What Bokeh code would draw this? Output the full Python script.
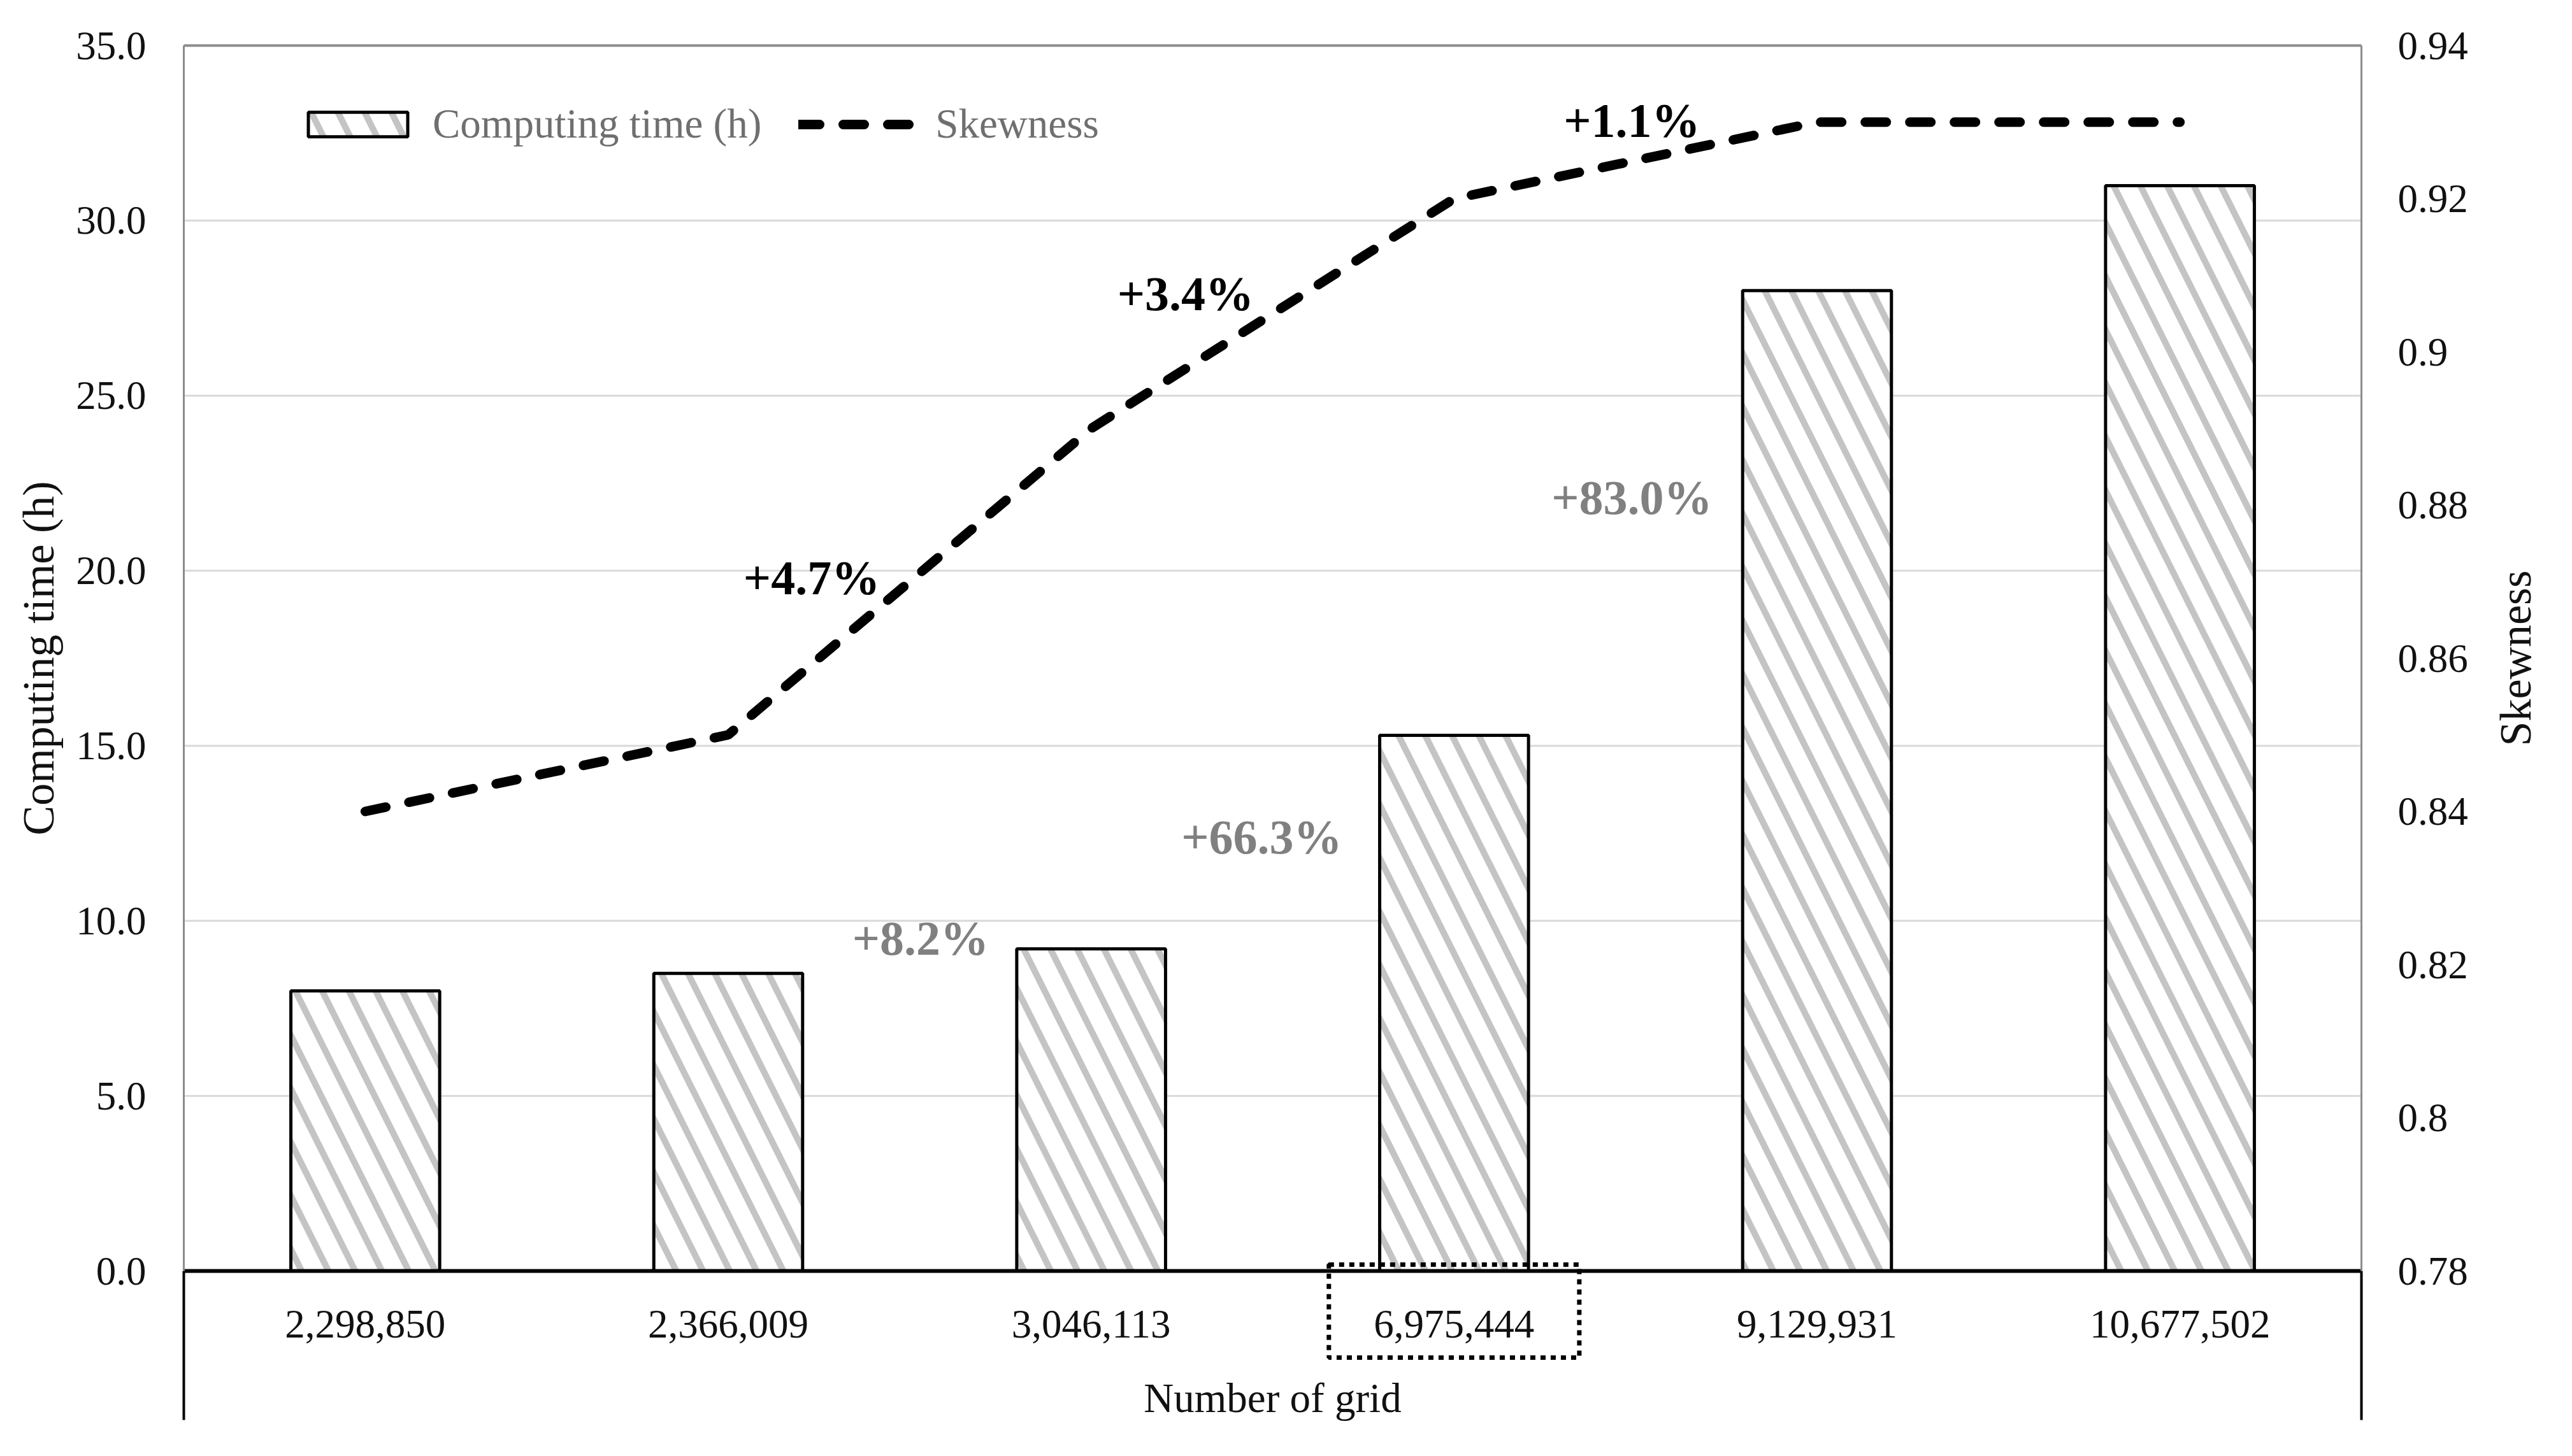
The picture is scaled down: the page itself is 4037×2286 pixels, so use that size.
from math import pi
from bokeh.plotting import figure
from bokeh.models import (Range1d, LinearAxis, FixedTicker, NumeralTickFormatter,
                          CustomJSTickFormatter, Label, Legend, LegendItem,
                          ColumnDataSource)
from bokeh.core.properties import value
from bokeh.embed import file_html
from bokeh.resources import INLINE

# ---------------- data ----------------
grid_counts = ["2,298,850", "2,366,009", "3,046,113", "6,975,444", "9,129,931", "10,677,502"]
computing_time_h = [8.0, 8.5, 9.2, 15.3, 28.0, 31.0]
skewness = [0.84, 0.85, 0.89, 0.92, 0.93, 0.93]
time_change_labels = ["+8.2%", "+66.3%", "+83.0%"]
skew_change_labels = ["+4.7%", "+3.4%", "+1.1%"]
left_ticks = [0, 5, 10, 15, 20, 25, 30, 35]
right_ticks = [0.78, 0.80, 0.82, 0.84, 0.86, 0.88, 0.90, 0.92, 0.94]
highlight_grid = "6,975,444"

n = len(grid_counts)
idx = list(range(n))

# ---------------- layout (canvas px) ----------------
W, H = 4021, 2270
PL, PR, PT, ZERO, PB = 288, 3706, 71, 1995, 2229   # plot area edges, zero line, table bottom
cat_px = (PR - PL) / n
x_lo = -0.5 - PL / cat_px
x_hi = n - 0.5 + (W - PR) / cat_px
ppu = (ZERO - PT) / (left_ticks[-1] - left_ticks[0])
y_lo = -(H - ZERO) / ppu
y_hi = left_ticks[-1] + PT / ppu
table_bottom = -(PB - ZERO) / ppu
k = (right_ticks[-1] - right_ticks[0]) / (ZERO - PT)
skew_lo = right_ticks[0] - (H - ZERO) * k
skew_hi = right_ticks[-1] + PT * k

# annotation anchors (x in category units, y in axis units)
time_lab_x = [1.53, 2.47, 3.49]
time_lab_y = [9.5, 12.4, 22.1]
skew_lab_x = [1.23, 2.26, 3.49]
skew_lab_y = [0.8705, 0.9076, 0.9302]

FONT = "Liberation Serif"
GRAY_SPINE = "#8c8c8c"
TXT = "#111111"

p = figure(width=W, height=H,
           x_range=Range1d(x_lo, x_hi), y_range=Range1d(y_lo, y_hi),
           output_backend="svg", toolbar_location=None,
           min_border_left=0, min_border_right=0,
           min_border_top=0, min_border_bottom=0)
p.outline_line_color = None
p.background_fill_color = "white"
p.border_fill_color = "white"
p.extra_y_ranges = {"skew": Range1d(skew_lo, skew_hi)}
p.grid.visible = False

# horizontal gridlines over the plot area
p.segment(x0=[-0.5] * (len(left_ticks) - 2), x1=[n - 0.5] * (len(left_ticks) - 2),
          y0=left_ticks[1:-1], y1=left_ticks[1:-1],
          line_color="#d9d9d9", line_width=3)

# top border of plot area
p.segment(x0=[-0.5], x1=[n - 0.5], y0=[left_ticks[-1]], y1=[left_ticks[-1]],
          line_color=GRAY_SPINE, line_width=4)

# lower outline of the category table
p.segment(x0=[-0.5, n - 0.5], x1=[-0.5, n - 0.5],
          y0=[0, 0], y1=[table_bottom, table_bottom],
          line_color="black", line_width=4)

# left axis
ya = p.yaxis[0]
ya.fixed_location = -0.5
ya.ticker = FixedTicker(ticks=left_ticks)
ya.formatter = NumeralTickFormatter(format="0.0")
ya.bounds = (left_ticks[0], left_ticks[-1])
ya.axis_line_color = GRAY_SPINE
ya.axis_line_width = 3
ya.major_tick_line_color = None
ya.minor_tick_line_color = None
ya.major_tick_out = 0
ya.major_tick_in = 0
ya.major_label_standoff = 59
ya.major_label_text_font = FONT
ya.major_label_text_font_size = "63px"
ya.major_label_text_color = TXT

# right axis
ra = LinearAxis(y_range_name="skew", fixed_location=n - 0.5,
                ticker=FixedTicker(ticks=right_ticks),
                formatter=CustomJSTickFormatter(code="return String(parseFloat(tick.toFixed(2)));"))
ra.bounds = (right_ticks[0], right_ticks[-1])
ra.axis_line_color = GRAY_SPINE
ra.axis_line_width = 3
ra.major_tick_line_color = None
ra.minor_tick_line_color = None
ra.major_tick_out = 0
ra.major_tick_in = 0
ra.major_label_standoff = 57
ra.major_label_text_font = FONT
ra.major_label_text_font_size = "63px"
ra.major_label_text_color = TXT
p.add_layout(ra, "right")

# bottom category axis at zero
xa = p.xaxis[0]
xa.fixed_location = 0
xa.bounds = (-0.5, n - 0.5)
xa.ticker = FixedTicker(ticks=idx)
xa.formatter = CustomJSTickFormatter(args=dict(labels=grid_counts),
                                     code="return labels[Math.round(tick)];")
xa.axis_line_color = "black"
xa.axis_line_width = 6
xa.major_tick_line_color = None
xa.minor_tick_line_color = None
xa.major_tick_out = 0
xa.major_tick_in = 0
xa.major_label_standoff = 62
xa.major_label_text_font = FONT
xa.major_label_text_font_size = "63px"
xa.major_label_text_color = TXT
xa.axis_label = "Number of grid"
xa.axis_label_text_font = FONT
xa.axis_label_text_font_size = "65px"
xa.axis_label_text_font_style = "normal"
xa.axis_label_text_color = TXT
xa.axis_label_standoff = 56

# bars
src = ColumnDataSource(dict(x=idx, t=computing_time_h))
bars = p.vbar(x="x", top="t", bottom=0, width=0.41, source=src,
              fill_color="white", line_color="black", line_width=5,
              hatch_pattern="\\", hatch_color="#c4c4c4",
              hatch_scale=84, hatch_weight=10)

# skewness line
line = p.line(x=idx, y=skewness, y_range_name="skew",
              line_color="black", line_width=15, line_dash="33 37",
              line_cap="round")

# dotted highlight box around the chosen grid
box_top = (ZERO - 1985) / ppu
box_bot = -(2131 - ZERO) / ppu
p.rect(x=[grid_counts.index(highlight_grid)], y=[(box_top + box_bot) / 2], width=0.69,
       height=box_top - box_bot, fill_color=None, line_color="black",
       line_width=7, line_dash="8 8")

# change annotations
p.text(x=time_lab_x, y=time_lab_y, text=time_change_labels,
       text_font=value(FONT), text_font_size=value("76px"),
       text_font_style="bold", text_color="#808080",
       text_align="center", text_baseline="middle")
p.text(x=skew_lab_x, y=skew_lab_y, text=skew_change_labels, y_range_name="skew",
       text_font=value(FONT), text_font_size=value("76px"),
       text_font_style="bold", text_color="black",
       text_align="center", text_baseline="middle")

# axis titles
mid_y = (left_ticks[0] + left_ticks[-1]) / 2
p.add_layout(Label(x=-0.5 - (PL - 60) / cat_px, y=mid_y, text="Computing time (h)",
                   angle=pi / 2, text_align="center", text_baseline="middle",
                   text_font=FONT, text_font_size="70px", text_color=TXT))
p.add_layout(Label(x=n - 0.5 + (3948 - PR) / cat_px, y=mid_y, text="Skewness",
                   angle=pi / 2, text_align="center", text_baseline="middle",
                   text_font=FONT, text_font_size="70px", text_color=TXT))

# legend
legend = Legend(items=[LegendItem(label="Computing time (h)", renderers=[bars]),
                       LegendItem(label="Skewness", renderers=[line])],
                orientation="horizontal", location=(464, 2038),
                glyph_width=195, glyph_height=48, label_standoff=20,
                spacing=58, padding=0, margin=0,
                border_line_color=None, background_fill_alpha=0,
                label_text_font=FONT, label_text_font_size="65px",
                label_text_color="#6f6f6f")
p.add_layout(legend)

open("out.html", "w").write(file_html(p, INLINE))
